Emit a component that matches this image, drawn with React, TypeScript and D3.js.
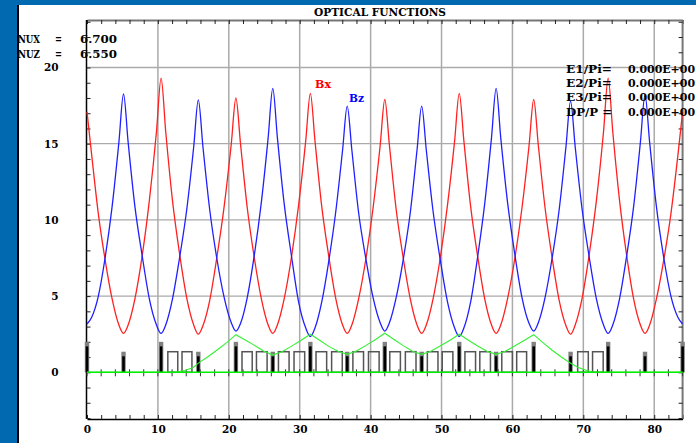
import React from 'react';
import { axisBottom, axisLeft, axisRight, axisTop, curveMonotoneX, line, range, scaleLinear, select } from 'd3';

const sPos = [
  0, 0.65, 1.6, 2.55, 3.55, 4.5,
  5.15, 5.8, 6.75, 7.8, 8.8, 9.8,
  10.45, 11.1, 12.05, 13.05, 14.1, 15.05,
  15.7, 16.35, 17.3, 18.3, 19.35, 20.35,
  21, 21.65, 22.6, 23.6, 24.6, 25.55,
  26.2, 26.85, 27.8, 28.85, 29.85, 30.85,
  31.5, 32.15, 33.1, 34.1, 35.1, 36.05,
  36.7, 37.35, 38.3, 39.35, 40.35, 41.35,
  42, 42.65, 43.6, 44.6, 45.6, 46.55,
  47.2, 47.85, 48.8, 49.85, 50.85, 51.85,
  52.5, 53.15, 54.1, 55.1, 56.1, 57.05,
  57.7, 58.35, 59.3, 60.35, 61.35, 62.35,
  63, 63.65, 64.6, 65.6, 66.6, 67.55,
  68.2, 68.85, 69.8, 70.85, 71.85, 72.85,
  73.5, 74.15, 75.1, 76.1, 77.1, 78.05,
  78.7, 79.35, 80.3, 81.35, 82.35, 83.35,
  84
];

const betaX = [
  17.1, 14.3, 10.4, 7.4, 4.8, 3.1,
  2.55, 3.1, 4.8, 7.7, 11.3, 15.8,
  19.3, 15.8, 11.3, 7.8, 4.8, 3.1,
  2.5, 3.05, 4.7, 7.5, 10.9, 15,
  18, 15, 10.8, 7.5, 4.8, 3.1,
  2.55, 3.1, 4.8, 7.6, 11, 15.2,
  18.3, 15.2, 10.9, 7.6, 4.8, 3.1,
  2.55, 3.1, 4.8, 7.5, 10.8, 14.9,
  17.9, 14.9, 10.7, 7.5, 4.8, 3.1,
  2.55, 3.1, 4.8, 7.6, 11, 15.2,
  18.3, 15.2, 10.9, 7.6, 4.8, 3.1,
  2.55, 3.1, 4.8, 7.5, 10.8, 14.9,
  17.9, 14.9, 10.8, 7.5, 4.7, 3.05,
  2.5, 3.1, 4.8, 7.8, 11.3, 15.8,
  19.3, 15.8, 11.3, 7.7, 4.8, 3.1,
  2.55, 3.1, 4.8, 7.4, 10.4, 14.3,
  17.1
];

const betaZ = [
  3.17, 3.6, 5, 7.5, 10.9, 15.1,
  18.26, 15.1, 10.9, 7.6, 4.8, 3.1,
  2.55, 3.1, 4.8, 7.5, 10.8, 14.8,
  17.87, 14.8, 10.7, 7.5, 4.9, 3.25,
  2.7, 3.2, 4.9, 7.7, 11.2, 15.4,
  18.63, 15.4, 11.1, 7.6, 4.6, 2.9,
  2.35, 2.9, 4.6, 7.3, 10.6, 14.6,
  17.47, 14.6, 10.5, 7.4, 4.9, 3.25,
  2.7, 3.25, 4.9, 7.4, 10.5, 14.6,
  17.47, 14.6, 10.6, 7.3, 4.6, 2.9,
  2.35, 2.9, 4.6, 7.6, 11.1, 15.4,
  18.63, 15.4, 11.2, 7.7, 4.9, 3.2,
  2.7, 3.25, 4.9, 7.5, 10.7, 14.8,
  17.8, 14.8, 10.8, 7.5, 4.8, 3.1,
  2.55, 3.1, 4.8, 7.6, 10.9, 15.1,
  18.2, 15.1, 10.9, 7.5, 5, 3.6,
  3.17
];

// dispersion, only where it leaves zero
const dispS = [0, 12.5, 13.8, 15, 15.7, 17, 18.3, 19.7, 21, 22.2, 23.5, 24.9, 26.2, 27.5, 28.8, 30.2, 31.5, 32.8, 34.1, 35.4, 36.7, 38, 39.3, 40.7, 42, 43.3, 44.6, 45.9, 47.2, 48.5, 49.8, 51.2, 52.5, 53.8, 55.1, 56.4, 57.7, 59, 60.3, 61.7, 63, 64.3, 65.6, 66.9, 68.2, 69.3, 70.5, 71.5, 84];
const dispV = [0, 0, 0.12, 0.32, 0.6, 1, 1.45, 1.95, 2.47, 2.15, 1.8, 1.4, 1.13, 1.35, 1.7, 2.1, 2.5, 2.1, 1.7, 1.38, 1.18, 1.4, 1.75, 2.15, 2.56, 2.15, 1.75, 1.38, 1.18, 1.38, 1.72, 2.1, 2.5, 2.1, 1.72, 1.38, 1.18, 1.38, 1.72, 2.1, 2.47, 1.95, 1.45, 1, 0.6, 0.32, 0.12, 0, 0];

const dipoleStart = [11.4, 13.4, 21.86, 23.9, 27, 29.2, 32.3, 34.5, 37.5, 39.7, 42.7, 44.9, 48, 50.1, 53.3, 55.4, 58.5, 60.6, 69.2, 71.3];
const dipoleEnd = [12.8, 14.8, 23.3, 25.4, 28.5, 30.7, 33.8, 36, 39, 41.2, 44.2, 46.4, 49.5, 51.6, 54.8, 56.9, 60, 62, 70.7, 72.8];

const quadPos = [0, 5.15, 10.45, 15.7, 21, 26.2, 31.5, 36.7, 42, 47.2, 52.5, 57.7, 63, 68.2, 73.5, 78.7, 84];
const quadHeight = [2, 1.35, 2, 1.35, 2, 1.35, 2, 1.35, 2, 1.35, 2, 1.35, 2, 1.35, 2, 1.35, 2];

const xTicks = range(0, 85, 2);
const yTicks = range(-3, 24, 1);
const xGrid = [10, 20, 30, 40, 50, 60, 70, 80];
const yGrid = [5, 10, 15, 20];
const yLabels = [0, 5, 10, 15, 20];

const leftNames = ['NUX', 'NUZ'];
const leftValues = ['6.700', '6.550'];
const rightNames = ['E1/Pi=', 'E2/Pi=', 'E3/Pi=', 'DP/P ='];
const rightValues = ['0.000E+00', '0.000E+00', '0.000E+00', '0.000E+00'];

const WIDTH = 696;
const HEIGHT = 443;
const FONT = '"DejaVu Serif", serif';

const App = () => {
  const svgRef = React.useRef<SVGSVGElement>(null);

  React.useEffect(() => {
    const svg = select(svgRef.current);
    svg.selectAll('*').remove();

    const x = scaleLinear().domain([0, 84]).range([87, 682.6]);
    const y = scaleLinear().domain([0, 20]).range([372.3, 67.5]);
    const top = 20;
    const bottom = 419;

    // page frame
    svg.append('rect').attr('width', WIDTH).attr('height', HEIGHT).attr('fill', '#fff');
    svg.append('rect').attr('width', WIDTH).attr('height', 5).attr('fill', '#0069b0');
    svg.append('rect').attr('width', 17).attr('height', HEIGHT).attr('fill', '#0069b0');
    svg.append('rect').attr('x', 17).attr('y', 5).attr('width', 2).attr('height', HEIGHT - 5).attr('fill', '#000');

    // grid
    svg.append('g').selectAll('line').data(xGrid).join('line')
      .attr('x1', (d) => x(d)).attr('x2', (d) => x(d))
      .attr('y1', top).attr('y2', bottom)
      .attr('stroke', '#aaa').attr('stroke-width', 1.5);
    svg.append('g').selectAll('line').data(yGrid).join('line')
      .attr('x1', x(0)).attr('x2', x(84))
      .attr('y1', (d) => y(d)).attr('y2', (d) => y(d))
      .attr('stroke', '#aaa').attr('stroke-width', 1.3);

    // axes, ticks point into the plot
    const styleAxis = (g: any, color: string, width: number) => {
      g.selectAll('.domain').attr('stroke', color).attr('stroke-width', width);
      g.selectAll('.tick line').attr('stroke', '#222');
      g.selectAll('text')
        .attr('font-family', FONT).attr('font-weight', 'bold').attr('font-size', 10.5).attr('fill', '#000');
    };

    const xAxis = svg.append('g').attr('transform', `translate(0,${bottom})`)
      .call(axisBottom(x).tickValues(xTicks).tickSize(-4).tickSizeOuter(0).tickPadding(7)
        .tickFormat((d: any) => (d % 10 === 0 ? String(d) : '')));
    styleAxis(xAxis, '#000', 1.5);

    const xAxisTop = svg.append('g').attr('transform', `translate(0,${top})`)
      .call(axisTop(x).tickValues(xTicks).tickSize(-4).tickSizeOuter(0).tickFormat(() => ''));
    styleAxis(xAxisTop, '#777', 2);

    const yAxis = svg.append('g').attr('transform', `translate(${x(0) - 0.5},0)`)
      .call(axisLeft(y).tickValues(yTicks).tickSize(-4).tickSizeOuter(0).tickPadding(28)
        .tickFormat((d: any) => (yLabels.includes(d) ? String(d) : '')));
    styleAxis(yAxis, '#000', 1.5);
    yAxis.select('.domain').attr('d', `M0,${top}V${bottom}`);

    const yAxisRight = svg.append('g').attr('transform', `translate(${x(84)},0)`)
      .call(axisRight(y).tickValues(yTicks).tickSize(-4).tickSizeOuter(0).tickFormat(() => ''));
    styleAxis(yAxisRight, '#777', 2);
    yAxisRight.select('.domain').attr('d', `M0,${top}V${bottom}`);

    // ticks across the zero line
    svg.append('g').selectAll('line').data(xTicks).join('line')
      .attr('x1', (d) => x(d)).attr('x2', (d) => x(d))
      .attr('y1', y(0) - 3).attr('y2', y(0) + 4)
      .attr('stroke', '#333');

    // lattice
    svg.append('g').selectAll('rect').data(dipoleStart).join('rect')
      .attr('x', (d) => x(d))
      .attr('y', y(1.35))
      .attr('width', (d, i) => x(dipoleEnd[i]) - x(d))
      .attr('height', y(0) - y(1.35))
      .attr('fill', 'none').attr('stroke', '#555').attr('stroke-width', 1.5);
    svg.append('g').selectAll('rect').data(quadPos).join('rect')
      .attr('x', (d) => x(d) - 2.2)
      .attr('y', (d, i) => y(quadHeight[i]))
      .attr('width', 4.4)
      .attr('height', (d, i) => y(0) - y(quadHeight[i]))
      .attr('fill', '#808080');
    svg.append('g').selectAll('rect').data(quadPos).join('rect')
      .attr('x', (d) => x(d) - 1.3)
      .attr('y', (d, i) => y(quadHeight[i] - 0.3))
      .attr('width', 2.6)
      .attr('height', (d, i) => y(0) - y(quadHeight[i] - 0.3))
      .attr('fill', '#000');

    // optical functions
    const curve = (values: number[]) => line<number>()
      .x((d, i) => x(sPos[i]))
      .y((d) => y(d))
      .curve(curveMonotoneX)(values);
    svg.append('path').attr('d', curve(betaX)).attr('fill', 'none').attr('stroke', '#ff2020').attr('stroke-width', 1.3);
    svg.append('path').attr('d', curve(betaZ)).attr('fill', 'none').attr('stroke', '#2020ff').attr('stroke-width', 1.3);

    svg.append('path')
      .attr('d', line<number>().x((d, i) => x(dispS[i])).y((d) => y(d))(dispV))
      .attr('fill', 'none').attr('stroke', '#33f033').attr('stroke-width', 1.1);
    svg.append('line')
      .attr('x1', x(0)).attr('x2', x(84)).attr('y1', y(0)).attr('y2', y(0))
      .attr('stroke', '#00ee00').attr('stroke-width', 1.5);

    // texts, stretched to the columns of the fixed-width original
    const label = (text: string, tx: number, ty: number, len: number, fill = '#000') => svg.append('text')
      .attr('x', tx).attr('y', ty)
      .attr('textLength', len).attr('lengthAdjust', 'spacingAndGlyphs')
      .attr('font-family', FONT).attr('font-weight', 'bold').attr('font-size', 10.5)
      .attr('fill', fill)
      .text(text);

    label('OPTICAL FUNCTIONS', 314, 16, 132);
    leftNames.forEach((t, i) => {
      label(t, 18, 43 + i * 15, 22);
      label('=', 55, 43 + i * 15, 7);
      label(leftValues[i], 80, 43 + i * 15, 37);
    });
    rightNames.forEach((t, i) => {
      label(t, 566, 73 + i * 14.2, 46);
      label(rightValues[i], 628, 73 + i * 14.2, 67);
    });
    label('Bx', 315, 88, 16, '#ff0000');
    label('Bz', 349, 101.5, 15, '#0000ff');
  }, []);

  return (
    <svg
      ref={svgRef}
      width={WIDTH}
      height={HEIGHT}
      style={{ position: 'absolute', top: 0, left: 0, display: 'block' }}
    />
  );
};

export default App;
